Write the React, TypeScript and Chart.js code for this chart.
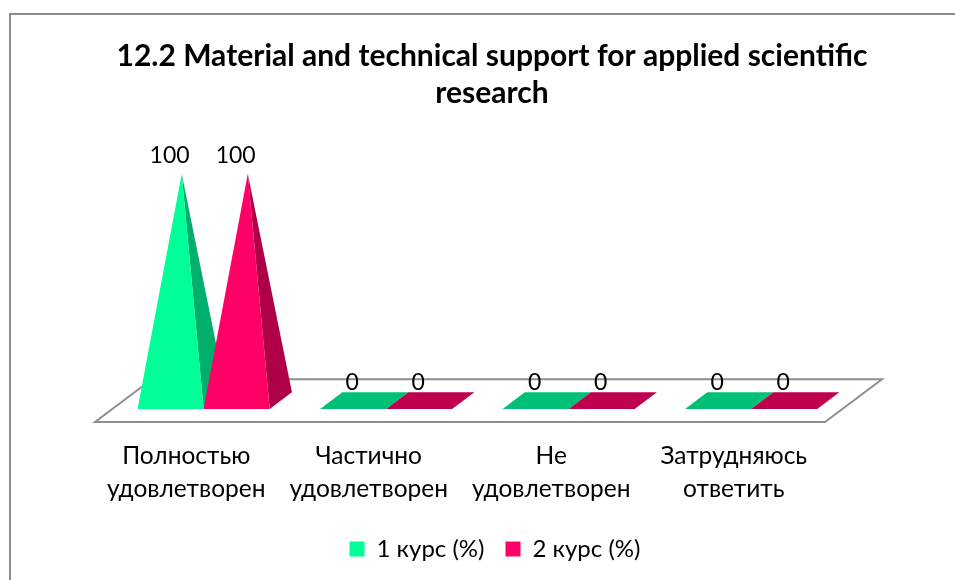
import React, { useEffect, useRef } from "react";
import { Chart, registerables } from "chart.js";

Chart.register(...registerables);

const categories: string[][] = [
  ["Полностью", "удовлетворен"],
  ["Частично", "удовлетворен"],
  ["Не", "удовлетворен"],
  ["Затрудняюсь", "ответить"],
];
const course1 = [100, 0, 0, 0];
const course2 = [100, 0, 0, 0];
const seriesNames = ["1 курс (%)", "2 курс (%)"];
const titleLines = ["12.2 Material and technical support for applied scientific", "research"];

const FONT = "Lato, 'Open Sans', sans-serif";
const faceColors = ["#00FF99", "#FF0066"];
const sideColors = ["#00AF6B", "#AE0046"];
const baseColors = ["#00C076", "#BE004E"];

// oblique projection of the floor
const FLOOR_DX = 57;
const FLOOR_DY = 42.7;
const BAR_DEPTH = 0.39;

const W = 966;
const H = 575;

const poly = (ctx: CanvasRenderingContext2D, pts: number[][], fill: string) => {
  ctx.beginPath();
  pts.forEach(([x, y], i) => (i ? ctx.lineTo(x, y) : ctx.moveTo(x, y)));
  ctx.closePath();
  ctx.fillStyle = fill;
  ctx.fill();
};

const pyramidPlugin = {
  id: "pyramid3d",
  afterLayout(chart: any) {
    chart.legend.left += 3;
    chart.legend.right += 3;
  },
  beforeDraw(chart: any) {
    const { ctx } = chart;
    ctx.save();
    ctx.strokeStyle = "#8C8C8C";
    ctx.lineWidth = 2;
    ctx.strokeRect(1, 1, W + 20, H + 20);
    ctx.restore();
  },
  beforeDatasetDraw() {
    return false;
  },
  beforeDatasetsDraw(chart: any) {
    const { ctx, chartArea } = chart;
    const { left, right, bottom } = chartArea;
    ctx.save();
    ctx.beginPath();
    ctx.moveTo(left, bottom);
    ctx.lineTo(right, bottom);
    ctx.lineTo(right + FLOOR_DX, bottom - FLOOR_DY);
    ctx.lineTo(left + FLOOR_DX, bottom - FLOOR_DY);
    ctx.closePath();
    ctx.strokeStyle = "#8E8E8E";
    ctx.lineWidth = 2;
    ctx.stroke();

    const zero = chart.scales.y.getPixelForValue(0);
    const frontD = 0.5 - BAR_DEPTH / 2;
    const backD = 0.5 + BAR_DEPTH / 2;
    chart.data.datasets.forEach((_: any, di: number) => {
      chart.getDatasetMeta(di).data.forEach((bar: any) => {
        const half = bar.width / 2;
        const x0 = bar.x - half + FLOOR_DX * frontD;
        const x1 = bar.x + half + FLOOR_DX * frontD;
        const x2 = x1 + FLOOR_DX * BAR_DEPTH;
        const x3 = x0 + FLOOR_DX * BAR_DEPTH;
        const yf = zero - FLOOR_DY * frontD;
        const yb = zero - FLOOR_DY * backD;
        const ax = bar.x + FLOOR_DX / 2;
        const ay = bar.y - FLOOR_DY / 2;
        if (bar.y >= zero - 0.5) {
          poly(ctx, [[x0, yf], [x1, yf], [x2, yb], [x3, yb]], baseColors[di]);
        } else {
          poly(ctx, [[x1, yf], [x2, yb], [ax, ay]], sideColors[di]);
          poly(ctx, [[x0, yf], [x1, yf], [ax, ay]], faceColors[di]);
        }
      });
    });
    ctx.restore();
  },
  afterDatasetsDraw(chart: any) {
    const { ctx } = chart;
    ctx.save();
    ctx.font = `23px ${FONT}`;
    ctx.fillStyle = "#000";
    ctx.textAlign = "center";
    ctx.textBaseline = "middle";
    chart.data.datasets.forEach((ds: any, di: number) => {
      chart.getDatasetMeta(di).data.forEach((bar: any, i: number) => {
        const px = bar.x + FLOOR_DX * 0.5 - FLOOR_DX * BAR_DEPTH / 2;
        ctx.fillText(String(ds.data[i]), px - 1, bar.y - FLOOR_DY / 2 - 18.5);
      });
    });
    ctx.restore();
  },
};

export default function App() {
  const ref = useRef<HTMLCanvasElement>(null);
  useEffect(() => {
    document.body.style.margin = "0";
    document.body.style.overflow = "hidden";
    const chart = new Chart(ref.current!, {
      type: "bar",
      data: {
        labels: categories,
        datasets: [
          { label: seriesNames[0], data: course1, backgroundColor: faceColors[0], categoryPercentage: 0.724, barPercentage: 1 },
          { label: seriesNames[1], data: course2, backgroundColor: faceColors[1], categoryPercentage: 0.724, barPercentage: 1 },
        ],
      },
      plugins: [pyramidPlugin],
      options: {
        responsive: false,
        animation: false,
        layout: { padding: { bottom: 17 } },
        plugins: {
          tooltip: { enabled: false },
          title: {
            display: true,
            text: titleLines,
            color: "#000",
            font: { family: FONT, size: 30, weight: "bold", lineHeight: 37 / 30 },
            padding: { top: 25, bottom: 83 },
          },
          legend: {
            position: "bottom",
            labels: {
              boxWidth: 15,
              boxHeight: 15,
              color: "#000",
              font: { family: FONT, size: 24 },
              padding: 21,
            },
          },
        },
        scales: {
          x: {
            grid: { display: false },
            border: { display: false },
            ticks: {
              color: "#000",
              font: { family: FONT, size: 24.5, lineHeight: 33 / 24.5 },
              padding: 10,
              maxRotation: 0,
              autoSkip: false,
            },
            afterFit: (s: any) => { s.height = 94; },
          },
          y: {
            min: 0,
            max: 100,
            grid: { display: false },
            border: { display: false },
            ticks: { display: false },
            afterFit: (s: any) => { s.width = 86; },
          },
          y2: {
            position: "right",
            grid: { display: false },
            border: { display: false },
            ticks: { display: false },
            afterFit: (s: any) => { s.width = 150; },
          },
        },
      },
    } as any);
    return () => chart.destroy();
  }, []);
  return (
    <div style={{ position: "fixed", left: 0, top: 0, width: 955, height: 580, overflow: "hidden", background: "#fff" }}>
      <div style={{ position: "absolute", left: 9, top: 13 }}>
        <canvas ref={ref} width={W} height={H} style={{ display: "block" }} />
      </div>
    </div>
  );
}
